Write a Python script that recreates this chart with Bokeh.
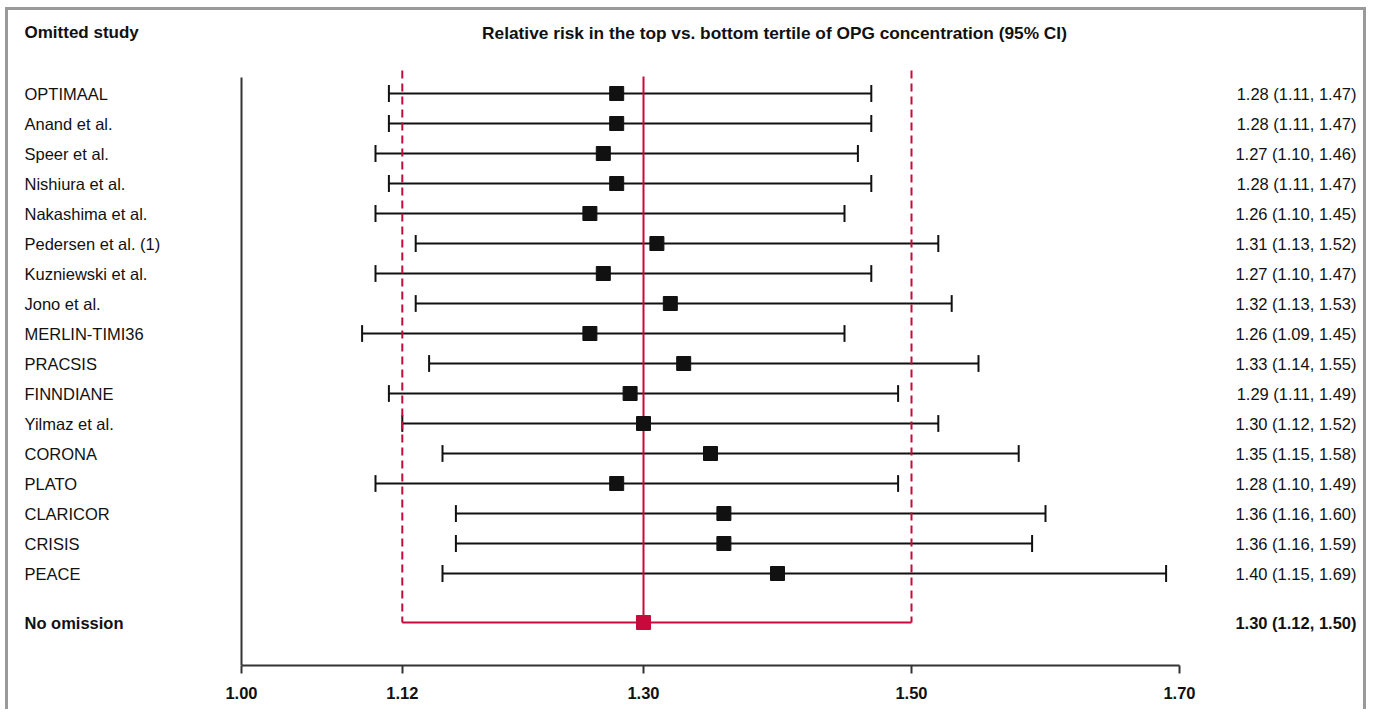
from bokeh.plotting import figure
from bokeh.models import Range1d, FixedTicker, NumeralTickFormatter
from bokeh.embed import file_html
from bokeh.resources import INLINE
from bokeh.core.properties import value

# ---------------- data ----------------
studies = ["OPTIMAAL", "Anand et al.", "Speer et al.", "Nishiura et al.", "Nakashima et al.",
           "Pedersen et al. (1)", "Kuzniewski et al.", "Jono et al.", "MERLIN-TIMI36", "PRACSIS",
           "FINNDIANE", "Yilmaz et al.", "CORONA", "PLATO", "CLARICOR", "CRISIS", "PEACE"]
estimate = [1.28, 1.28, 1.27, 1.28, 1.26, 1.31, 1.27, 1.32, 1.26, 1.33,
            1.29, 1.30, 1.35, 1.28, 1.36, 1.36, 1.40]
lower = [1.11, 1.11, 1.10, 1.11, 1.10, 1.13, 1.10, 1.13, 1.09, 1.14,
         1.11, 1.12, 1.15, 1.10, 1.16, 1.16, 1.15]
upper = [1.47, 1.47, 1.46, 1.47, 1.45, 1.52, 1.47, 1.53, 1.45, 1.55,
         1.49, 1.52, 1.58, 1.49, 1.60, 1.59, 1.69]
summary_label = "No omission"
summary_est = 1.30
summary_lo = 1.12
summary_hi = 1.50
x_ticks = [1.00, 1.12, 1.30, 1.50, 1.70]
axis_bounds = (1.00, 1.70)
header_left = "Omitted study"
header_title = "Relative risk in the top vs. bottom tertile of OPG concentration (95% CI)"

# ---------------- layout helpers (page pixels) ----------------
PAGE_W, PAGE_H = 1376, 713
MARGIN_L, MARGIN_T, BW = 5, 7, 3
OX, OY = MARGIN_L + BW, MARGIN_T + BW      # canvas origin inside the grey frame
CW, CH = 1369 - OX, PAGE_H - 1 - OY        # canvas size (keeps page within the window)
FRAME_BOTTOM = 665
PX_PER_UNIT = 1340.0
X0_PX = 241                   # page pixel of x = 1.00
x_start = 1.0 - (X0_PX - OX) / PX_PER_UNIT
x_end = x_start + CW / PX_PER_UNIT
ROW0_PX, ROW_PX = 93, 30


def row_of(px):
    return (px - ROW0_PX) / ROW_PX


def x_of(px):
    return x_start + (px - OX) / PX_PER_UNIT


rows = list(range(len(studies)))
summary_row = row_of(622)
labels = [f"{e:.2f} ({l:.2f}, {u:.2f})" for e, l, u in zip(estimate, lower, upper)]
summary_text = f"{summary_est:.2f} ({summary_lo:.2f}, {summary_hi:.2f})"

RED = "#C8093B"
INK = "#111111"
FONT = value("Liberation Sans")
FS = "16.5px"

p = figure(width=CW, height=CH, x_range=Range1d(x_start, x_end),
           y_range=Range1d(row_of(FRAME_BOTTOM), row_of(OY)),
           output_backend="svg", toolbar_location=None,
           min_border_left=0, min_border_right=0, min_border_top=0,
           min_border_bottom=OY + CH - FRAME_BOTTOM,
           y_axis_location=None)
p.outline_line_color = None
p.xgrid.visible = False
p.ygrid.visible = False
p.background_fill_color = "white"
p.border_fill_color = "white"
p.styles = {
    "margin-left": f"{MARGIN_L}px",
    "margin-top": f"{MARGIN_T}px",
    "border-top": f"{BW}px solid #9a9a9a",
    "border-left": f"{BW}px solid #9a9a9a",
    "border-right": f"{BW}px solid #9a9a9a",
}

ax = p.xaxis[0]
ax.ticker = FixedTicker(ticks=x_ticks)
ax.formatter = NumeralTickFormatter(format="0.00")
ax.bounds = axis_bounds
ax.axis_line_width = 2
ax.axis_line_color = "#333333"
ax.major_tick_line_width = 2
ax.major_tick_line_color = "#333333"
ax.major_tick_out = 8
ax.major_tick_in = 0
ax.minor_tick_out = 0
ax.minor_tick_in = 0
ax.major_label_standoff = 13
ax.major_label_text_font = "Liberation Sans"
ax.major_label_text_font_style = "bold"
ax.major_label_text_font_size = FS
ax.major_label_text_color = INK

# left reference axis line
p.segment(x0=[axis_bounds[0]], x1=[axis_bounds[0]], y0=[row_of(77)], y1=[row_of(FRAME_BOTTOM)],
          line_width=2, line_color="#333333")

# whiskers and caps
cap = 0.28
p.segment(x0=lower, x1=upper, y0=rows, y1=rows, line_width=2, line_color=INK)
p.segment(x0=lower, x1=lower, y0=[r - cap for r in rows], y1=[r + cap for r in rows],
          line_width=2, line_color=INK)
p.segment(x0=upper, x1=upper, y0=[r - cap for r in rows], y1=[r + cap for r in rows],
          line_width=2, line_color=INK)

# summary reference lines
p.segment(x0=[summary_lo, summary_hi], x1=[summary_lo, summary_hi],
          y0=[row_of(70)] * 2, y1=[summary_row] * 2,
          line_width=2, line_color=RED, line_dash="8 5")
p.segment(x0=[summary_est], x1=[summary_est], y0=[row_of(76)], y1=[summary_row],
          line_width=2, line_color=RED)
p.segment(x0=[summary_lo], x1=[summary_hi], y0=[summary_row], y1=[summary_row],
          line_width=2, line_color=RED)

# points
p.scatter(x=estimate, y=rows, marker="square", size=14, fill_color=INK, line_color=INK)
p.scatter(x=[summary_est], y=[summary_row], marker="square", size=14, fill_color=RED, line_color=RED)

# texts
p.text(x=[x_of(24)] * len(studies), y=rows, text=studies, text_align="left", text_baseline="middle",
       text_font=FONT, text_font_size=FS, text_color=INK)
p.text(x=[x_of(1356)] * len(labels), y=rows, text=labels, text_align="right", text_baseline="middle",
       text_font=FONT, text_font_size=FS, text_color=INK)
p.text(x=[x_of(24)], y=[summary_row], text=[summary_label], text_align="left", text_baseline="middle",
       text_font=FONT, text_font_size=FS, text_font_style="bold", text_color=INK)
p.text(x=[x_of(1356)], y=[summary_row], text=[summary_text], text_align="right", text_baseline="middle",
       text_font=FONT, text_font_size=FS, text_font_style="bold", text_color=INK)
p.text(x=[x_of(24)], y=[row_of(32)], text=[header_left], text_align="left", text_baseline="middle",
       text_font=FONT, text_font_size="17px", text_font_style="bold", text_color=INK)
p.text(x=[x_of(774)], y=[row_of(32)], text=[header_title], text_align="center", text_baseline="middle",
       text_font=FONT, text_font_size="17.3px", text_font_style="bold", text_color=INK)

open("out.html", "w").write(file_html(p, INLINE))
